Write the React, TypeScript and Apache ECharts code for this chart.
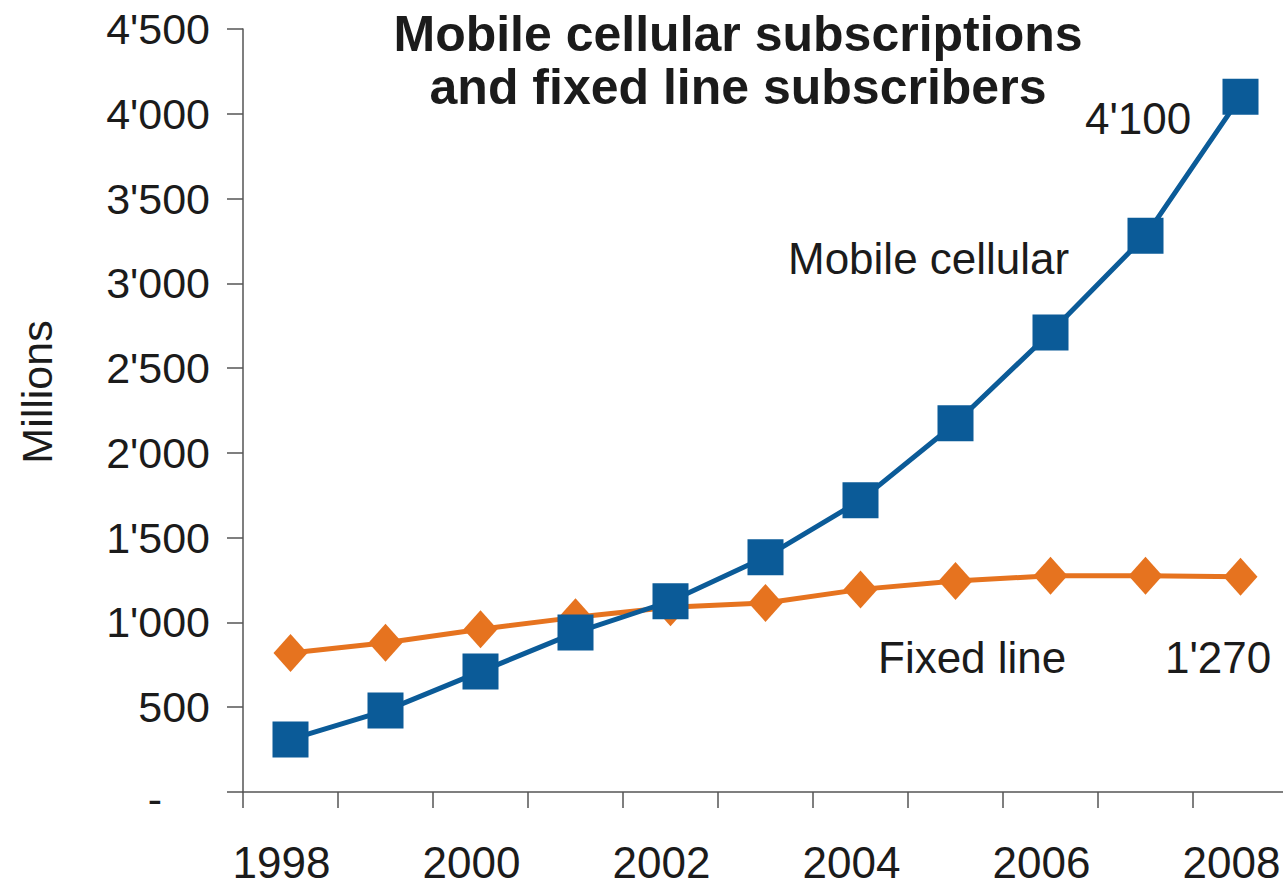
import React, { useEffect, useRef } from "react";
import * as echarts from "echarts";

const years = ["1998", "1999", "2000", "2001", "2002", "2003", "2004", "2005", "2006", "2007", "2008"];
const mobileCellular = [310, 480, 710, 940, 1125, 1385, 1720, 2175, 2710, 3280, 4100];
const fixedLine = [820, 880, 960, 1030, 1090, 1115, 1195, 1245, 1275, 1275, 1270];
const yTicks = { min: 0, max: 4500, interval: 500 };

const FONT = "'Liberation Sans', Arial, Helvetica, sans-serif";
const TEXT = "#1b1b1b";
const BLUE = "#0b5b98";
const ORANGE = "#e6731f";

function fmt(v: number): string {
  if (v === 0) return "{dash|-}";
  const s = String(Math.round(v));
  return s.length > 3 ? s.slice(0, s.length - 3) + "'" + s.slice(s.length - 3) : s;
}

export default function App() {
  const ref = useRef<HTMLDivElement>(null);
  useEffect(() => {
    if (!ref.current) return;
    const chart = echarts.init(ref.current, null, { renderer: "svg", width: 1283, height: 888 });
    chart.setOption({
      animation: false,
      backgroundColor: "#ffffff",
      grid: { left: 243, width: 1045, top: 29, bottom: 96, containLabel: false, outerBoundsMode: "none" },
      xAxis: {
        type: "category",
        data: years,
        boundaryGap: true,
        axisLine: { show: true, lineStyle: { color: "#555", width: 1.5 } },
        axisTick: { show: true, interval: 0, length: 16, lineStyle: { color: "#555", width: 1.5 } },
        axisLabel: {
          interval: 1,
          margin: 48,
          fontSize: 44,
          fontFamily: FONT,
          color: TEXT,
          padding: [0, 18, 0, 0],
        },
        splitLine: { show: false },
      },
      yAxis: {
        type: "value",
        min: yTicks.min,
        max: yTicks.max,
        interval: yTicks.interval,
        axisLine: { show: true, lineStyle: { color: "#555", width: 1.5 } },
        axisTick: { show: true, length: 16, lineStyle: { color: "#555", width: 1.5 } },
        splitLine: { show: false },
        axisLabel: {
          margin: 33,
          fontSize: 43,
          fontFamily: FONT,
          color: TEXT,
          formatter: (v: number) => fmt(v),
          rich: { dash: { fontSize: 43, fontFamily: FONT, color: TEXT, padding: [14, 48, 0, 0] } },
        },
      },
      graphic: [
        {
          type: "text",
          x: 738,
          y: 7,
          style: {
            text: "Mobile cellular subscriptions\nand fixed line subscribers",
            align: "center",
            verticalAlign: "top",
            fontSize: 50,
            fontWeight: "bold",
            fontFamily: FONT,
            lineHeight: 53,
            fill: TEXT,
          },
        },
        {
          type: "text",
          x: 37,
          y: 392,
          rotation: Math.PI / 2,
          style: {
            text: "Millions",
            align: "center",
            verticalAlign: "middle",
            fontSize: 43,
            fontFamily: FONT,
            fill: TEXT,
          },
        },
        {
          type: "text",
          x: 1085,
          y: 118,
          style: { text: "4'100", align: "left", verticalAlign: "middle", fontSize: 44, fontFamily: FONT, fill: TEXT },
        },
        {
          type: "text",
          x: 788,
          y: 258,
          style: { text: "Mobile cellular", align: "left", verticalAlign: "middle", fontSize: 44, fontFamily: FONT, fill: TEXT },
        },
        {
          type: "text",
          x: 878,
          y: 657,
          style: { text: "Fixed line", align: "left", verticalAlign: "middle", fontSize: 44, fontFamily: FONT, fill: TEXT },
        },
        {
          type: "text",
          x: 1165,
          y: 657,
          style: { text: "1'270", align: "left", verticalAlign: "middle", fontSize: 44, fontFamily: FONT, fill: TEXT },
        },
      ],
      series: [
        {
          name: "Fixed line",
          type: "line",
          data: fixedLine,
          symbol: "diamond",
          symbolSize: [34, 38],
          lineStyle: { color: ORANGE, width: 5 },
          itemStyle: { color: ORANGE },
          z: 2,
        },
        {
          name: "Mobile cellular",
          type: "line",
          data: mobileCellular,
          symbol: "rect",
          symbolSize: 36,
          lineStyle: { color: BLUE, width: 5 },
          itemStyle: { color: BLUE },
          z: 3,
        },
      ],
    });
    return () => chart.dispose();
  }, []);
  return (
    <div
      ref={ref}
      style={{ position: "fixed", left: 0, top: 0, width: 1283, height: 888, background: "#fff" }}
    />
  );
}
